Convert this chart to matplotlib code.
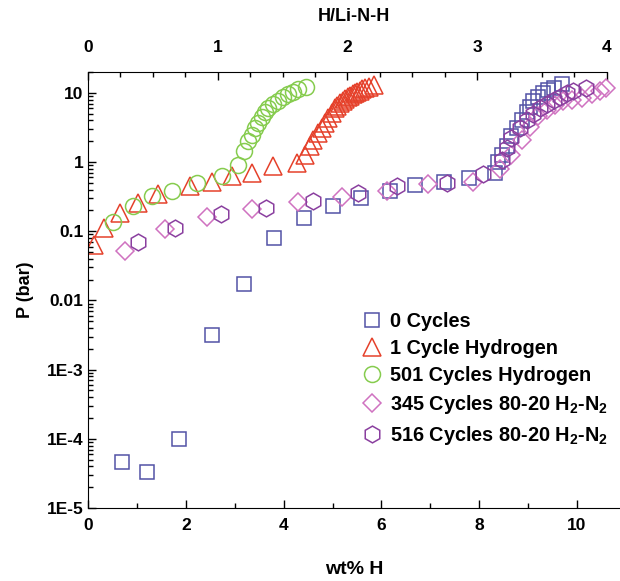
import matplotlib
matplotlib.use('Agg')
import matplotlib.pyplot as plt
import numpy as np
from matplotlib.ticker import FixedLocator, FixedFormatter, LogLocator, NullFormatter

plt.rcParams['font.family'] = ['Liberation Sans', 'DejaVu Sans']
plt.rcParams['font.weight'] = 'bold'
plt.rcParams['mathtext.fontset'] = 'custom'
plt.rcParams['mathtext.rm'] = 'Liberation Sans:bold'
plt.rcParams['mathtext.it'] = 'Liberation Sans:bold'
plt.rcParams['mathtext.bf'] = 'Liberation Sans:bold'

# 0 Cycles
wt_0 = [0.69, 1.20, 1.86, 2.53, 3.18, 3.80, 4.42, 5.02, 5.58, 6.18, 6.69, 7.27, 7.79, 8.32,
        8.39, 8.46, 8.56, 8.66, 8.77, 8.87, 8.97, 9.04, 9.11, 9.21, 9.31, 9.41, 9.52, 9.69]
p_0 = [4.55e-5, 3.26e-5, 9.9e-5, 3.16e-3, 0.0174, 0.0785, 0.155, 0.235, 0.307, 0.375, 0.469,
       0.522, 0.585, 0.69, 1.0, 1.27, 1.68, 2.34, 3.09, 4.07, 5.37, 6.3, 7.5, 8.8, 10.0, 11.0,
       11.9, 13.4]

# 1 Cycle Hydrogen
wt_1 = [0.12, 0.33, 0.65, 1.03, 1.44, 2.09, 2.53, 2.94, 3.35, 3.78, 4.27, 4.44, 4.54, 4.61,
        4.71, 4.78, 4.85, 4.91, 4.98, 5.05, 5.10, 5.15, 5.21, 5.26, 5.31, 5.36, 5.41, 5.46,
        5.51, 5.56, 5.61, 5.66, 5.75, 5.84]
p_1 = [0.064, 0.113, 0.183, 0.255, 0.347, 0.443, 0.523, 0.618, 0.705, 0.88, 0.96, 1.27, 1.68,
       2.09, 2.62, 3.09, 3.65, 4.3, 5.1, 6.0, 6.5, 7.1, 7.6, 8.1, 8.6, 9.05, 9.5, 9.9, 10.3,
       10.7, 11.2, 11.7, 12.2, 12.9]

# 501 Cycles Hydrogen
wt_501 = [0.52, 0.93, 1.30, 1.71, 2.22, 2.75, 3.07, 3.19, 3.28, 3.35, 3.42, 3.48, 3.55, 3.62,
          3.69, 3.79, 3.89, 3.99, 4.10, 4.20, 4.30, 4.46]
p_501 = [0.138, 0.228, 0.325, 0.375, 0.495, 0.63, 0.91, 1.42, 1.98, 2.47, 3.09, 3.72, 4.46,
         5.2, 6.0, 6.9, 7.7, 8.7, 9.6, 10.4, 11.4, 12.3]

# 345 Cycles 80-20 H2-N2
wt_345 = [0.76, 1.57, 2.43, 3.35, 4.30, 5.19, 6.11, 6.96, 7.88, 8.42, 8.66, 8.87, 9.04, 9.21,
          9.38, 9.55, 9.72, 9.90, 10.10, 10.30, 10.47, 10.60]
p_345 = [0.0526, 0.107, 0.158, 0.209, 0.263, 0.317, 0.384, 0.484, 0.523, 0.79, 1.27, 2.09,
         3.26, 4.55, 5.68, 6.7, 7.5, 8.0, 8.5, 9.5, 10.5, 11.7]

# 516 Cycles 80-20 H2-N2
wt_516 = [1.03, 1.78, 2.73, 3.65, 4.61, 5.53, 6.31, 7.34, 8.08, 8.46, 8.56, 8.66, 8.84, 8.97,
          9.11, 9.24, 9.38, 9.52, 9.65, 9.79, 9.92, 10.18]
p_516 = [0.071, 0.113, 0.177, 0.22, 0.275, 0.355, 0.443, 0.495, 0.668, 1.08, 1.58, 2.21,
         3.09, 4.07, 4.98, 6.0, 6.9, 7.9, 8.85, 9.9, 10.7, 11.9]

y_ticks = [1e1, 1e0, 1e-1, 1e-2, 1e-3, 1e-4, 1e-5]
y_ticklabels = ['10', '1', '0.1', '0.01', '1E-3', '1E-4', '1E-5']
top_ticks = [0, 1, 2, 3, 4]

wt_max = 10.61  # wt% that corresponds to H/Li-N-H = 4
k = 4.0 / wt_max

fig = plt.figure(figsize=(6.2, 5.81), dpi=100)
ax = fig.add_axes([88/620, 1 - 508/581, 1 - 88/620, (508 - 72)/581])

ms = 11.5
ax.plot(wt_0, p_0, ls='none', marker='s', ms=ms*0.92, mfc='none', mec='#5252a6', mew=1.1,
        label='0 Cycles')
ax.plot(wt_1, p_1, ls='none', marker='^', ms=ms*1.15, mfc='none', mec='#e5412b', mew=1.1,
        label='1 Cycle Hydrogen')
ax.plot(wt_501, p_501, ls='none', marker='o', ms=ms, mfc='none', mec='#86cc4e', mew=1.1,
        label='501 Cycles Hydrogen')
ax.plot(wt_345, p_345, ls='none', marker='D', ms=ms*0.8, mfc='none', mec='#cf72c0', mew=1.1,
        label=r'345 Cycles 80-20 H$_2$-N$_2$')
ax.plot(wt_516, p_516, ls='none', marker='h', ms=ms*1.05, mfc='none', mec='#8a3f9f', mew=1.1,
        label=r'516 Cycles 80-20 H$_2$-N$_2$')

ax.set_yscale('log')
ax.set_ylim(1e-5, 20)
ax.set_xlim(0, (620 - 88) / 48.9)

ax.yaxis.set_major_locator(FixedLocator(y_ticks))
ax.yaxis.set_major_formatter(FixedFormatter(y_ticklabels))
ax.yaxis.set_minor_locator(LogLocator(base=10, subs=np.arange(2, 10), numticks=20))
ax.yaxis.set_minor_formatter(NullFormatter())
ax.xaxis.set_major_locator(FixedLocator([0, 2, 4, 6, 8, 10]))
ax.xaxis.set_minor_locator(FixedLocator([1, 3, 5, 7, 9]))

ax.tick_params(which='both', direction='in', top=False, right=False, labelsize=12.5)
ax.tick_params(which='major', length=6, width=1)
ax.tick_params(which='minor', length=3.5, width=1)
ax.tick_params(axis='x', pad=7)
for sp in ['top', 'right']:
    ax.spines[sp].set_visible(False)

ax.set_xlabel('wt% H', fontsize=14, fontweight='bold', labelpad=20)
ax.set_ylabel('P (bar)', fontsize=13, fontweight='bold', labelpad=9)

secax = ax.secondary_xaxis('top', functions=(lambda x: x * k, lambda x: x / k))
secax.xaxis.set_major_locator(FixedLocator(top_ticks))
secax.xaxis.set_minor_locator(FixedLocator(np.arange(0.25, 4, 0.25)))
secax.tick_params(which='both', direction='in', labelsize=12.5, pad=12)
secax.tick_params(which='major', length=6, width=1)
secax.tick_params(which='minor', length=3.5, width=1)
secax.spines['top'].set_bounds(0, 4)
secax.set_xlabel('H/Li-N-H', fontsize=13, fontweight='bold', labelpad=14)

leg = ax.legend(loc='upper left', bbox_to_anchor=(0.5, 0.468), frameon=False, fontsize=14.3,
                handletextpad=0.4, labelspacing=0.4, handlelength=1.0, borderaxespad=0)

plt.savefig('out.png', dpi=100)
